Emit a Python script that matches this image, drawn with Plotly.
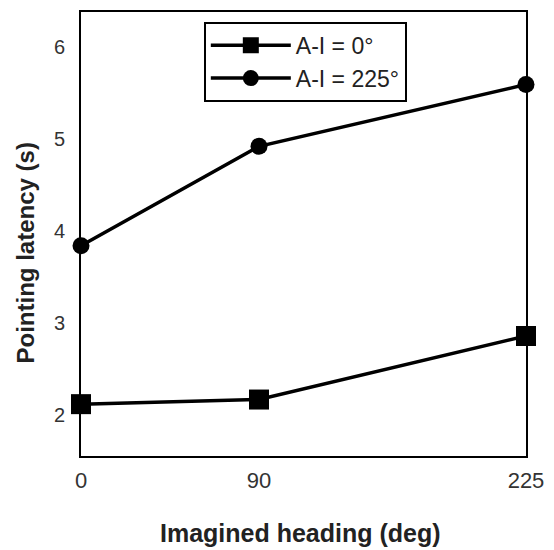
import plotly.graph_objects as go

headings = [0, 90, 225]
ai_0 = [2.12, 2.17, 2.86]
ai_225 = [3.84, 4.92, 5.59]
series_names = ["A-I = 0°", "A-I = 225°"]
x_ticks = [0, 90, 225]
y_ticks = [2, 3, 4, 5, 6]
x_title = "Imagined heading (deg)"
y_title = "Pointing latency (s)"

fig = go.Figure()
fig.add_trace(go.Scatter(
    x=headings, y=ai_0, name=series_names[0], mode="lines+markers",
    line=dict(color="black", width=3.5),
    marker=dict(symbol="square", size=20, color="black"),
    cliponaxis=False,
))
fig.add_trace(go.Scatter(
    x=headings, y=ai_225, name=series_names[1], mode="lines+markers",
    line=dict(color="black", width=3.5),
    marker=dict(symbol="circle", size=17, color="black"),
    cliponaxis=False,
))

fig.update_layout(
    width=554, height=550,
    margin=dict(l=81, r=17, t=10, b=94),
    plot_bgcolor="white", paper_bgcolor="white",
    font=dict(family="Liberation Sans, Arial, sans-serif", color="#222"),
    showlegend=True,
    legend=dict(
        x=0.276, y=0.978, xanchor="left", yanchor="top",
        bordercolor="black", borderwidth=2, bgcolor="white",
        font=dict(size=23, color="#222"),
        itemwidth=80,
        tracegroupgap=0,
    ),
    xaxis=dict(
        range=[0, 225], tickmode="array", tickvals=x_ticks,
        ticktext=[str(v) for v in x_ticks],
        showgrid=False, zeroline=False, ticks="",
        showline=True, linecolor="black", linewidth=2, mirror=True,
        tickfont=dict(size=22, color="#333"),
        ticklabelstandoff=4,
        ticklabeloverflow="allow",
    ),
    yaxis=dict(
        range=[1.557, 6.378], tickmode="array", tickvals=y_ticks,
        showgrid=False, zeroline=False, ticks="",
        showline=True, linecolor="black", linewidth=2, mirror=True,
        tickfont=dict(size=20, color="#333"),
        ticklabelstandoff=10,
    ),
    annotations=[
        dict(text="<b>" + x_title + "</b>", xref="paper", yref="paper",
             x=0.493, y=-0.1726, xanchor="center", yanchor="middle",
             showarrow=False, font=dict(size=25, color="#222")),
        dict(text="<b>" + y_title + "</b>", xref="paper", yref="paper",
             x=-0.125, y=0.457, xanchor="center", yanchor="middle",
             textangle=-90, showarrow=False, font=dict(size=24, color="#222")),
    ],
)

fig.write_html("out.html")
